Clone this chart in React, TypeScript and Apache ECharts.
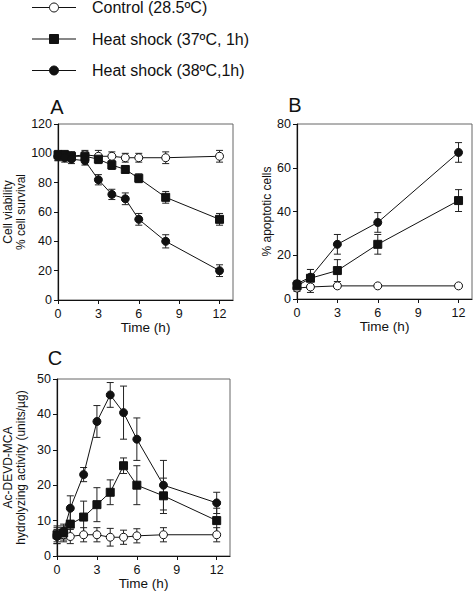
import React, { useEffect, useRef } from "react";
import * as echarts from "echarts";

const FONT = "'Liberation Sans', Arial, Helvetica, sans-serif";
const INK = "#111";

const seriesNames = ["Control (28.5ºC)", "Heat shock (37ºC, 1h)", "Heat shock (38ºC,1h)"];
const panelLetters = ["A", "B", "C"];
const xTickValues = [0, 3, 6, 9, 12];
const xAxisTitle = "Time (h)";
const yTitleA = "Cell viability\n% cell survival";
const yTitleB = "% apoptotic cells";
const yTitleC = "Ac-DEVD-MCA\nhydrolyzing activity (units/µg)";

// Panel A: cell viability
const timesA = [0, 0.5, 1, 2, 3, 4, 5, 6, 8, 12];
const controlA = [98, 98, 98, 99, 98, 98, 97, 97, 97, 98];
const controlAErr = [3, 3, 3, 3, 4, 3, 3, 3, 4, 4];
const hs37A = [99, 99, 98, 98, 96, 92, 89, 83, 70, 55];
const hs37AErr = [3, 3, 3, 3, 3, 3, 2.5, 3, 4, 4];
const hs38A = [98, 97, 96, 95, 82, 72, 69, 55, 40, 20];
const hs38AErr = [3, 3, 3, 3, 3.5, 3.5, 4, 4, 4.5, 4];

// Panel B: % apoptotic cells
const timesB = [0, 1, 3, 6, 12];
const controlB = [5, 5.5, 6, 6, 6];
const controlBErr = [1.5, 2.5, 0.5, 0.5, 0.5];
const hs37B = [6, 9.5, 13, 25, 45];
const hs37BErr = [1.5, 4, 5, 4.5, 5];
const hs38B = [7, 10, 25, 35, 67];
const hs38BErr = [1.5, 3.5, 4.5, 4.5, 4.5];

// Panel C: Ac-DEVD-MCA hydrolyzing activity
const timesC = [0, 0.5, 1, 2, 3, 4, 5, 6, 8, 12];
const controlC = [6, 6, 5.5, 6, 6, 5.3, 5.3, 5.7, 6, 6];
const controlCErr = [2, 2, 2, 2, 2, 2.5, 2, 2, 2, 2];
const hs37C = [6, 6.5, 9, 11, 14.5, 18, 25.5, 20, 17, 10];
const hs37CErr = [2.5, 2, 4, 4.5, 4.8, 3.5, 2.2, 5.5, 5, 3.5];
const hs38C = [5.5, 7, 13.5, 23, 38, 45.5, 40.5, 33, 20, 15];
const hs38CErr = [2, 2, 3.5, 2, 4.5, 3.5, 7.5, 6, 7, 3];

const yRangeA = { max: 120, interval: 20 };
const yRangeB = { max: 80, interval: 20 };
const yRangeC = { max: 50, interval: 10 };

const markerStyles = [
  { symbol: "circle", fill: "#fff" },
  { symbol: "rect", fill: INK },
  { symbol: "circle", fill: INK },
];

function lineSeries(idx: number, times: number[], vals: number[], grid: number) {
  const m = markerStyles[idx];
  return {
    type: "line",
    name: seriesNames[idx],
    xAxisIndex: grid,
    yAxisIndex: grid,
    data: times.map((t, i) => [t, vals[i]]),
    symbol: m.symbol,
    symbolSize: 8,
    showSymbol: true,
    lineStyle: { color: INK, width: 1 },
    itemStyle: { color: m.fill, borderColor: INK, borderWidth: 1 },
    z: 3,
    silent: true,
  };
}

function errSeries(times: number[], vals: number[], errs: number[], grid: number) {
  return {
    type: "custom",
    xAxisIndex: grid,
    yAxisIndex: grid,
    data: times.map((t, i) => [t, vals[i] - errs[i], vals[i] + errs[i]]),
    encode: { x: 0, y: [1, 2] },
    renderItem: (_params: any, api: any) => {
      const t = api.value(0);
      const lo = api.coord([t, api.value(1)]);
      const hi = api.coord([t, api.value(2)]);
      const hw = 3.5;
      const style = { stroke: "#222", lineWidth: 1, fill: "none" };
      return {
        type: "group",
        children: [
          { type: "line", shape: { x1: lo[0], y1: lo[1], x2: hi[0], y2: hi[1] }, style },
          { type: "line", shape: { x1: lo[0] - hw, y1: lo[1], x2: lo[0] + hw, y2: lo[1] }, style },
          { type: "line", shape: { x1: hi[0] - hw, y1: hi[1], x2: hi[0] + hw, y2: hi[1] }, style },
        ],
      };
    },
    z: 2,
    silent: true,
  };
}

function xAxis(gridIndex: number) {
  return {
    type: "value",
    gridIndex,
    min: 0,
    max: 13,
    interval: 3,
    name: xAxisTitle,
    nameLocation: "middle",
    nameGap: 20,
    nameTextStyle: { fontSize: 13.5, color: INK, fontFamily: FONT, fontWeight: "normal" },
    axisLine: { show: true, onZero: false, lineStyle: { color: INK, width: 1.2 } },
    axisTick: { show: true, customValues: xTickValues, length: 4, lineStyle: { color: INK } },
    axisLabel: { customValues: xTickValues, fontSize: 12.5, color: INK, margin: 7, fontFamily: FONT },
    splitLine: { show: false },
  };
}

function yAxis(gridIndex: number, range: { max: number; interval: number }, name: string, gap: number) {
  return {
    type: "value",
    gridIndex,
    min: 0,
    max: range.max,
    interval: range.interval,
    name,
    nameLocation: "middle",
    nameGap: gap,
    nameRotate: 90,
    nameTextStyle: { fontSize: 12, color: INK, fontFamily: FONT, lineHeight: 13, fontWeight: "normal" },
    axisLine: { show: true, lineStyle: { color: INK, width: 1.2 } },
    axisTick: { show: true, length: 4, lineStyle: { color: INK } },
    axisLabel: { fontSize: 12.5, color: INK, margin: 6, fontFamily: FONT },
    splitLine: { show: false },
  };
}

function legendGraphics() {
  const rows = [7.5, 39, 70.5];
  const els: any[] = [];
  rows.forEach((y, i) => {
    els.push({
      type: "line",
      shape: { x1: 32, y1: y, x2: 76, y2: y },
      style: { stroke: INK, lineWidth: 1.2 },
    });
    if (markerStyles[i].symbol === "rect") {
      els.push({
        type: "rect",
        shape: { x: 49.5, y: y - 4.5, width: 9, height: 9 },
        style: { fill: INK, stroke: INK, lineWidth: 1 },
      });
    } else {
      els.push({
        type: "circle",
        shape: { cx: 54, cy: y, r: 4.5 },
        style: { fill: markerStyles[i].fill, stroke: INK, lineWidth: 1 },
      });
    }
    els.push({
      type: "text",
      x: 92,
      y,
      style: {
        text: seriesNames[i],
        font: `16px ${FONT}`,
        fill: INK,
        verticalAlign: "middle",
        align: "left",
      },
    });
  });
  return els;
}

function letterGraphics() {
  const pos = [
    [57, 107],
    [295, 105],
    [55, 358],
  ];
  return panelLetters.map((l, i) => ({
    type: "text",
    x: pos[i][0],
    y: pos[i][1],
    style: {
      text: l,
      font: `20px ${FONT}`,
      fill: INK,
      align: "center",
      verticalAlign: "middle",
    },
  }));
}

export default function App() {
  const ref = useRef<HTMLDivElement>(null);
  useEffect(() => {
    if (!ref.current) return;
    const chart = echarts.init(ref.current, undefined, { renderer: "svg" });
    const gridBase = { show: true, borderColor: "#666", borderWidth: 1, backgroundColor: "transparent" };
    chart.setOption({
      animation: false,
      backgroundColor: "#fff",
      textStyle: { fontFamily: FONT },
      grid: [
        { ...gridBase, left: 56, top: 124, width: 177, height: 176 },
        { ...gridBase, left: 297, top: 124, width: 175, height: 175 },
        { ...gridBase, left: 54, top: 379, width: 176, height: 177 },
      ],
      xAxis: [xAxis(0), xAxis(1), xAxis(2)],
      yAxis: [
        yAxis(0, yRangeA, yTitleA, 31),
        yAxis(1, yRangeB, yTitleB, 21),
        yAxis(2, yRangeC, yTitleC, 30),
      ],
      series: [
        errSeries(timesA, controlA, controlAErr, 0),
        errSeries(timesA, hs37A, hs37AErr, 0),
        errSeries(timesA, hs38A, hs38AErr, 0),
        lineSeries(0, timesA, controlA, 0),
        lineSeries(1, timesA, hs37A, 0),
        lineSeries(2, timesA, hs38A, 0),
        errSeries(timesB, controlB, controlBErr, 1),
        errSeries(timesB, hs37B, hs37BErr, 1),
        errSeries(timesB, hs38B, hs38BErr, 1),
        lineSeries(0, timesB, controlB, 1),
        lineSeries(1, timesB, hs37B, 1),
        lineSeries(2, timesB, hs38B, 1),
        errSeries(timesC, controlC, controlCErr, 2),
        errSeries(timesC, hs37C, hs37CErr, 2),
        errSeries(timesC, hs38C, hs38CErr, 2),
        lineSeries(0, timesC, controlC, 2),
        lineSeries(1, timesC, hs37C, 2),
        lineSeries(2, timesC, hs38C, 2),
      ],
      graphic: [...legendGraphics(), ...letterGraphics()],
    });
    return () => chart.dispose();
  }, []);
  return (
    <div
      ref={ref}
      style={{ position: "absolute", left: 0, top: 0, width: 475, height: 593, background: "#fff" }}
    />
  );
}
